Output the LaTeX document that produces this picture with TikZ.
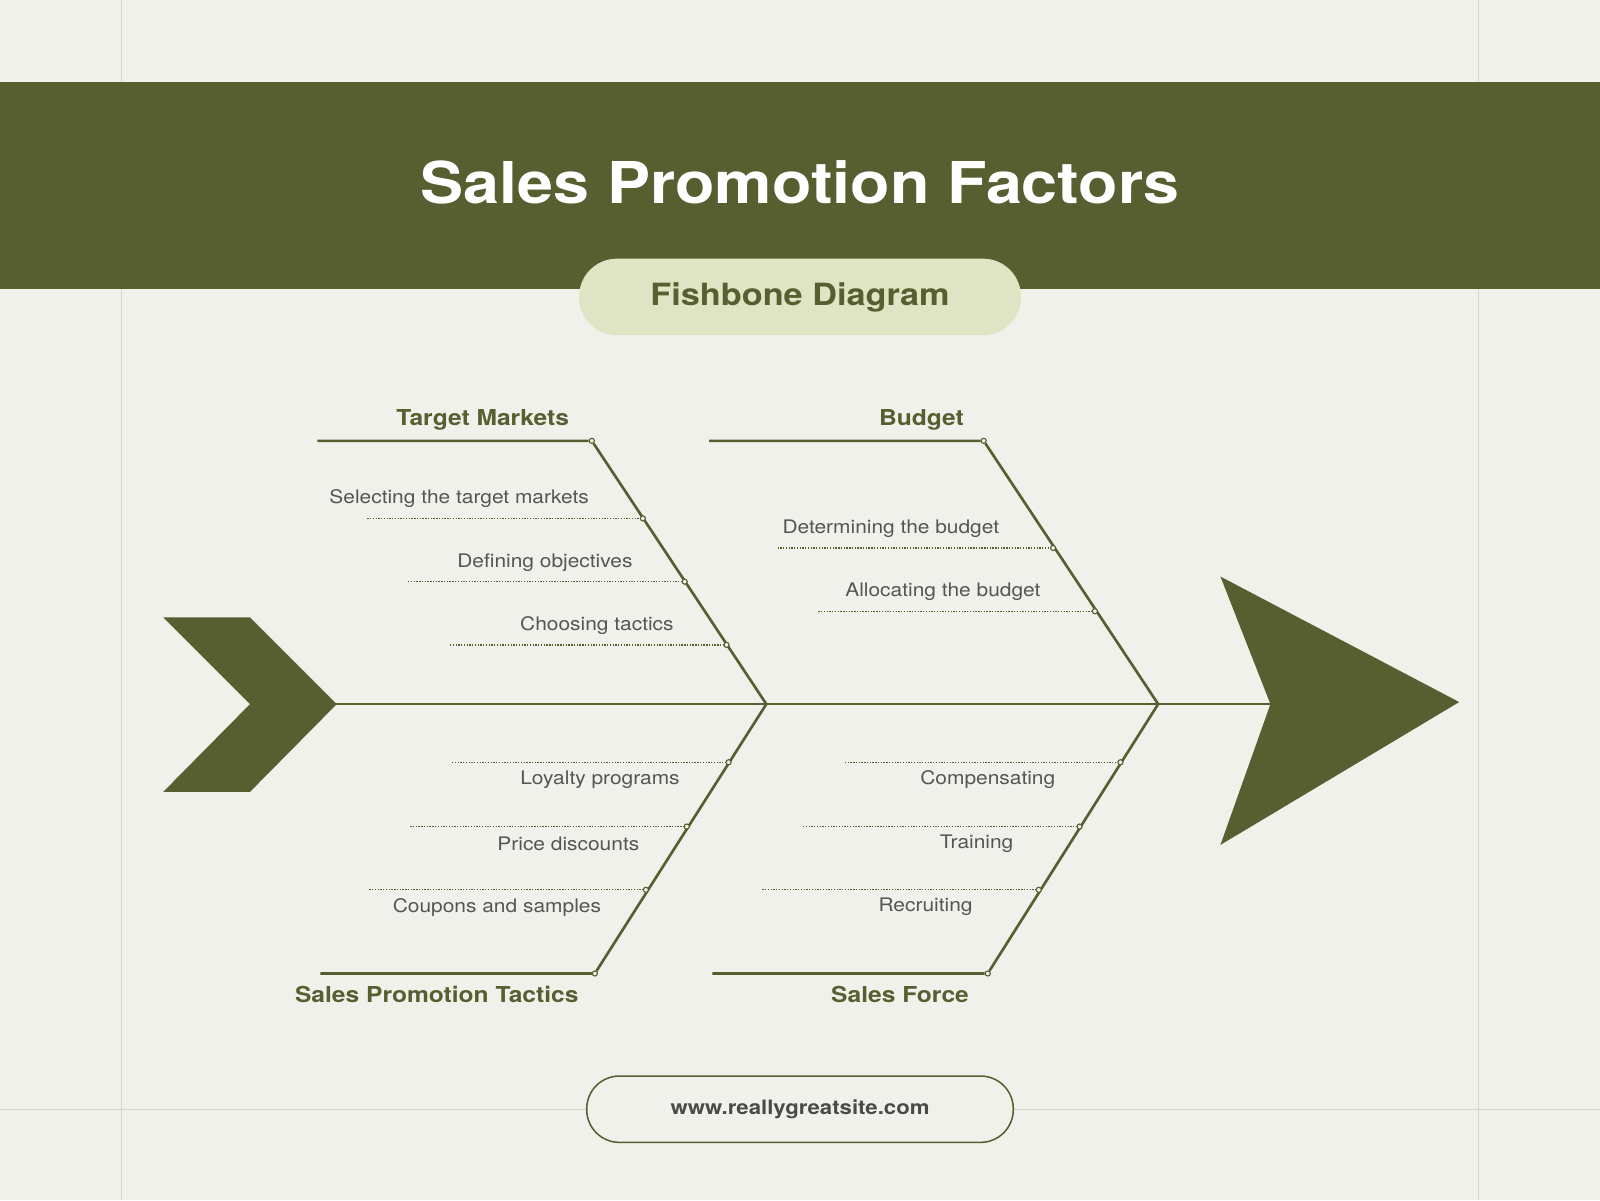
\documentclass[tikz,border=0pt]{standalone}
\usepackage{fontspec}
\setmainfont[FakeStretch=1.12]{TeX Gyre Heros}
\definecolor{bgc}{HTML}{F0F1EB}
\definecolor{fishgreen}{HTML}{575F31}
\definecolor{pillc}{HTML}{DFE5C4}
\definecolor{gridc}{HTML}{D3D9C2}
\definecolor{subgrey}{HTML}{555555}
\definecolor{webgrey}{HTML}{4A4A4A}
\tikzset{
    DT/.style ={circle,inner sep=0pt,minimum size=5pt,draw=fishgreen,line width=1.1pt,fill=bgc},
    BN/.style ={draw=fishgreen,line width=2.6pt},
    DL/.style ={draw=fishgreen,line width=1.3pt,dash pattern=on 1.3pt off 1.4pt},
    HD/.style ={font=\fontsize{21.5}{25}\selectfont\bfseries,text=fishgreen},
    SB/.style ={font=\fontsize{18.3}{21}\selectfont,text=subgrey},
    GL/.style ={draw=gridc,line width=1.2pt}}

\begin{document}
\begin{tikzpicture}[x=1pt,y=-1pt]
        \fill[bgc] (0,0) rectangle (1568,1176);
        \useasboundingbox (0,0) rectangle (1568,1176);
        \draw[GL] (119,0) -- (119,1176);
        \draw[GL] (1449,0) -- (1449,1176);
        \draw[GL] (0,1087) -- (1568,1087);
        \fill[fishgreen] (0,80) rectangle (1568,283);
        \node[font=\fontsize{56.5}{64}\selectfont\bfseries,text=white] (title) at (784,179) {Sales Promotion Factors};
        \node[fill=pillc,minimum width=433pt,minimum height=75pt,rounded corners=37pt,
              font=\fontsize{30}{36}\selectfont\bfseries,text=fishgreen] (sub) at (784,291) {Fishbone Diagram};
        \node[draw=fishgreen,line width=1.5pt,fill=bgc,minimum width=418pt,minimum height=65pt,rounded corners=32pt,
              font=\fontsize{19.4}{23}\selectfont\bfseries,text=webgrey] (web) at (784,1087) {www.reallygreatsite.com};
        \fill[fishgreen] (160,605) -- (245,605) -- (330,690) -- (245,776) -- (160,776) -- (245,690) -- cycle;
        \fill[fishgreen] (1196,565) -- (1430,688) -- (1196,828) -- (1245,690) -- cycle;
        \coordinate (tail) at (329,690);
        \coordinate (head) at (1246,690);
        \coordinate (j1) at (751,690);
        \coordinate (j2) at (1135,690);
        \draw[BN] (tail) -- (head);
        \node[DT] (1) at (580,432) {};
        \node[DT] (2) at (964,432) {};
        \node[DT] (3) at (583,954) {};
        \node[DT] (4) at (968,954) {};
        \coordinate (1a) at (311,432);
        \coordinate (2a) at (695,432);
        \coordinate (3a) at (314,954);
        \coordinate (4a) at (698,954);
        \draw[BN] (1a) -- (1) -- (j1);
        \draw[BN] (2a) -- (2) -- (j2);
        \draw[BN] (3a) -- (3) -- (j1);
        \draw[BN] (4a) -- (4) -- (j2);
        \node[HD] (h1) at (473,411) {Target Markets};
        \node[HD] (h2) at (903,411) {Budget};
        \node[HD] (h3) at (428,975) {Sales Promotion Tactics};
        \node[HD] (h4) at (882,975) {Sales Force};
        \node[DT] (11) at (630,508) {};
        \node[DT] (12) at (671,570) {};
        \node[DT] (13) at (712,632) {};
        \node[DT] (21) at (1032,537) {};
        \node[DT] (22) at (1073,599) {};
        \node[DT] (31) at (714,747) {};
        \node[DT] (32) at (673,810) {};
        \node[DT] (33) at (633,872) {};
        \node[DT] (41) at (1098,747) {};
        \node[DT] (42) at (1058,810) {};
        \node[DT] (43) at (1018,872) {};
        \coordinate (11a) at (360,508);
        \coordinate (12a) at (400,570);
        \coordinate (13a) at (441,632);
        \coordinate (21a) at (762,537);
        \coordinate (22a) at (802,599);
        \coordinate (31a) at (443,747);
        \coordinate (32a) at (402,810);
        \coordinate (33a) at (362,872);
        \coordinate (41a) at (828,747);
        \coordinate (42a) at (787,810);
        \coordinate (43a) at (747,872);
        \draw[DL] (11a) -- (11);
        \draw[DL] (12a) -- (12);
        \draw[DL] (13a) -- (13);
        \draw[DL] (21a) -- (21);
        \draw[DL] (22a) -- (22);
        \draw[DL] (31a) -- (31);
        \draw[DL] (32a) -- (32);
        \draw[DL] (33a) -- (33);
        \draw[DL] (41a) -- (41);
        \draw[DL] (42a) -- (42);
        \draw[DL] (43a) -- (43);
        \node[SB] (t11) at (450,489) {Selecting the target markets};
        \node[SB] (t12) at (534,551) {Defining objectives};
        \node[SB] (t13) at (585,613) {Choosing tactics};
        \node[SB] (t21) at (873,518) {Determining the budget};
        \node[SB] (t22) at (924,580) {Allocating the budget};
        \node[SB] (t31) at (588,764) {Loyalty programs};
        \node[SB] (t32) at (557,827) {Price discounts};
        \node[SB] (t33) at (487,889) {Coupons and samples};
        \node[SB] (t41) at (968,764) {Compensating};
        \node[SB] (t42) at (957,827) {Training};
        \node[SB] (t43) at (907,889) {Recruiting};
    \end{tikzpicture}
\end{document}
